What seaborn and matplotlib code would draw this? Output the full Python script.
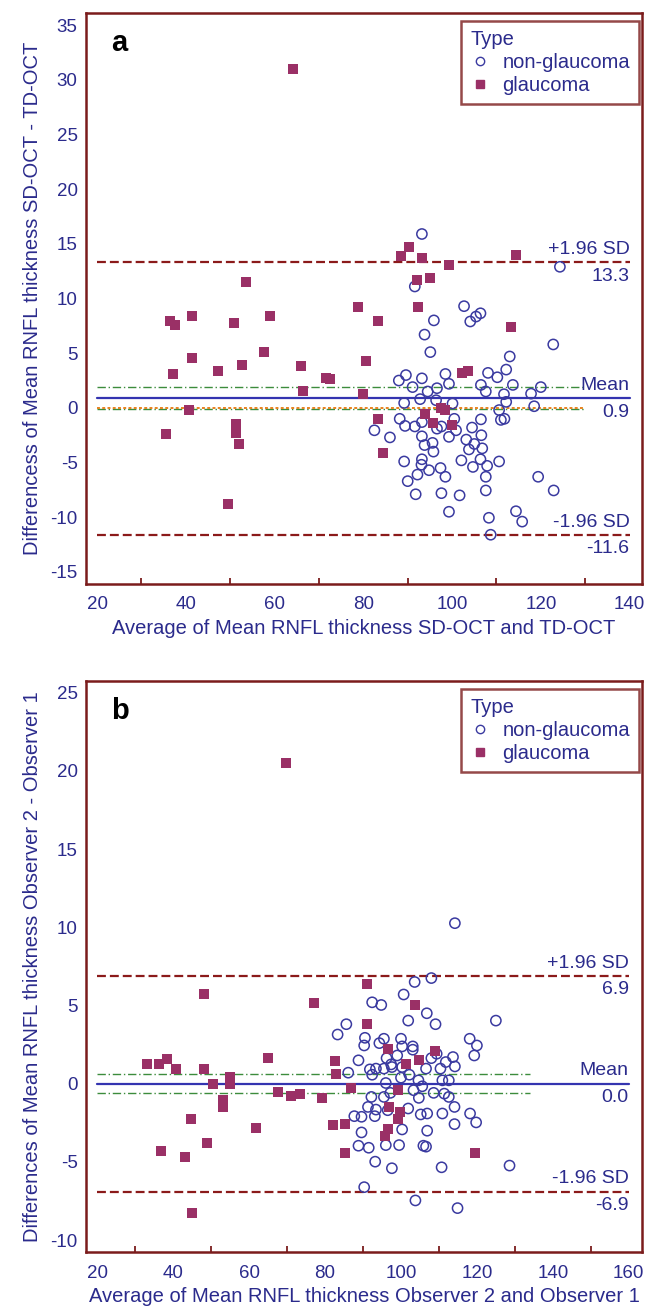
import numpy as np
import pandas as pd
import matplotlib
matplotlib.use("Agg")
import matplotlib.pyplot as plt
import seaborn as sns
from matplotlib.lines import Line2D

# ---------------- Panel a data ----------------
a_ng_x = [93.2, 124.3, 91.6, 102.7, 104.1, 106.4, 105.4, 95.9, 93.8, 95.1, 122.8, 113.0,
          112.2, 108.1, 110.2, 88.0, 89.6, 93.2, 98.5, 99.3, 91.1, 94.5, 96.6, 106.5,
          107.6, 111.7, 113.7, 117.8, 120.0, 118.5, 89.2, 92.8, 96.4, 100.1, 110.6, 112.2,
          111.0, 111.8, 88.2, 89.4, 91.6, 93.2, 96.6, 97.6, 100.5, 100.9, 104.5, 106.5,
          82.5, 86.0, 93.2, 93.8, 95.6, 95.8, 99.3, 103.2, 103.8, 105.0, 106.6, 106.8,
          106.4, 102.1, 89.2, 93.2, 93.1, 94.8, 97.4, 104.7, 107.9, 110.6, 90.0, 92.2,
          98.5, 107.6, 119.4, 91.8, 97.6, 101.7, 107.6, 122.9, 99.3, 108.3, 114.4, 115.8,
          108.7]
a_ng_y = [15.9, 12.9, 11.1, 9.3, 7.9, 8.65, 8.35, 8.0, 6.7, 5.1, 5.8, 4.7,
          3.5, 3.2, 2.8, 2.5, 3.0, 2.7, 3.1, 2.2, 1.9, 1.5, 1.8, 2.1,
          1.5, 1.25, 2.1, 1.3, 1.9, 0.15, 0.45, 0.8, 0.7, 0.4, -0.2, 0.55,
          -1.1, -1.0, -1.0, -1.65, -1.7, -1.3, -1.9, -1.7, -1.0, -2.05, -1.8, -1.05,
          -2.05, -2.7, -2.6, -3.4, -3.2, -4.0, -2.65, -2.9, -3.8, -3.3, -2.5, -3.7,
          -4.7, -4.8, -4.9, -4.7, -5.2, -5.7, -5.5, -5.4, -5.3, -4.9, -6.7, -6.1,
          -6.3, -6.3, -6.3, -7.9, -7.8, -8.0, -7.55, -7.55, -9.5, -10.05, -9.45, -10.4,
          -11.6]
a_g_x = [64.2, 90.2, 88.4, 93.2, 99.3, 114.4, 53.5, 92.0, 95.1, 78.8, 92.3,
         36.5, 37.5, 41.5, 50.8, 58.9, 83.4, 113.3, 57.7, 41.4, 80.7, 37.1, 47.3,
         52.7, 66.0, 71.7, 72.6, 66.5, 80.0, 102.3, 103.5, 40.7, 35.5, 51.4, 51.2,
         51.9, 49.5, 83.4, 84.4, 93.8, 95.6, 97.6, 98.4, 99.9]
a_g_y = [31.0, 14.7, 13.9, 13.7, 13.05, 14.0, 11.5, 11.7, 11.9, 9.2, 9.2,
         7.9, 7.6, 8.4, 7.8, 8.4, 7.9, 7.4, 5.1, 4.6, 4.3, 3.1, 3.4,
         3.9, 3.8, 2.75, 2.6, 1.56, 1.3, 3.15, 3.4, -0.2, -2.4, -1.5, -2.3,
         -3.3, -8.8, -1.0, -4.1, -0.6, -1.4, 0.0, -0.2, -1.6]
a_stats = {"mean": 0.9, "upper": 13.3, "lower": -11.6, "ci_hi": 1.87, "ci_lo": -0.12, "equal": 0.0}
a_line_x = [20, 140]
a_aux_x = [20, 130]
a_xticks = [20, 40, 60, 80, 100, 120, 140]
a_yticks = [-15, -10, -5, 0, 5, 10, 15, 20, 25, 30, 35]
a_xlabel = "Average of Mean RNFL thickness SD-OCT and TD-OCT"
a_ylabel = "Differencess of Mean RNFL thickness SD-OCT - TD-OCT"

# ---------------- Panel b data ----------------
b_ng_x = [114.2, 103.6, 108.0, 100.7, 92.4, 94.8, 106.8, 101.9, 109.1, 125.0, 85.6, 83.3,
          90.5, 90.3, 94.3, 95.5, 100.0, 100.3, 103.1, 103.1, 118.1, 120.0, 119.3, 109.4,
          108.0, 113.7, 114.2, 99.0, 96.2, 88.8, 97.4, 91.8, 93.4, 95.5, 97.6, 100.3,
          102.2, 106.6, 110.4, 111.8, 86.1, 92.4, 100.0, 96.0, 104.6, 110.9, 112.6, 103.3,
          105.6, 108.6, 111.4, 112.6, 92.2, 95.5, 97.2, 104.7, 91.3, 93.4, 101.9, 114.1,
          87.7, 89.6, 93.1, 96.5, 105.2, 106.9, 110.9, 118.2, 114.1, 119.8, 100.3, 106.9,
          89.6, 88.8, 91.5, 96.0, 99.5, 105.9, 106.6, 93.2, 97.6, 110.7, 128.6, 90.3,
          103.8, 114.9]
b_ng_y = [10.26, 6.5, 6.75, 5.7, 5.2, 5.03, 4.5, 4.03, 3.8, 4.03, 3.8, 3.14,
          2.93, 2.44, 2.59, 2.87, 2.87, 2.38, 2.38, 2.17, 2.87, 2.44, 1.8, 1.91,
          1.63, 1.7, 1.1, 1.8, 1.63, 1.49, 1.23, 0.91, 0.96, 0.96, 1.06, 1.06,
          0.57, 0.96, 0.96, 1.38, 0.7, 0.57, 0.38, 0.04, 0.21, 0.21, 0.21, -0.42,
          -0.17, -0.59, -0.64, -0.85, -0.85, -0.85, -0.59, -0.91, -1.49, -1.66, -1.59, -1.49,
          -2.08, -2.12, -2.08, -1.7, -1.97, -1.91, -1.91, -1.91, -2.59, -2.48, -2.93, -3.01,
          -3.12, -3.97, -4.1, -3.93, -3.93, -3.97, -4.03, -4.99, -5.41, -5.35, -5.24, -6.62,
          -7.47, -7.96]
b_g_x = [69.6, 91.0, 48.0, 77.0, 103.8, 91.0, 33.2, 36.2, 38.3, 40.8, 48.2,
         50.4, 54.9, 54.9, 65.0, 82.5, 82.8, 96.7, 109.0, 101.4, 104.8, 67.7, 71.0,
         73.5, 79.2, 86.8, 99.3, 53.2, 53.0, 96.9, 99.8, 99.3, 44.8, 61.7, 82.2,
         85.3, 96.5, 95.7, 49.0, 36.7, 43.2, 85.3, 119.6, 44.9]
b_g_y = [20.5, 6.37, 5.73, 5.14, 5.0, 3.8, 1.23, 1.23, 1.6, 0.96, 0.96,
         -0.04, 0.42, -0.04, 1.63, 1.42, 0.6, 2.2, 2.08, 1.23, 1.49, -0.53, -0.8,
         -0.68, -0.89, -0.28, -0.38, -1.02, -1.49, -1.49, -1.8, -2.23, -2.23, -2.82, -2.65,
         -2.59, -2.93, -3.33, -3.82, -4.31, -4.67, -4.46, -4.46, -8.28]
b_stats = {"mean": 0.0, "upper": 6.9, "lower": -6.9, "ci_hi": 0.59, "ci_lo": -0.59, "equal": None}
b_line_x = [20, 160]
b_aux_x = [20, 134]
b_xticks = [20, 40, 60, 80, 100, 120, 140, 160]
b_yticks = [-10, -5, 0, 5, 10, 15, 20, 25]
b_xlabel = "Average of Mean RNFL thickness Observer 2 and Observer 1"
b_ylabel = "Differences of Mean RNFL thickness Observer 2 - Observer 1"

# ---------------- style ----------------
sns.set_theme(style="white")
plt.rcParams["font.family"] = ["Liberation Sans", "DejaVu Sans"]

FRAME = "#7b1c1c"
TXT = "#2b2b8c"
CIRC = "#3a3aa0"
SQR = "#9a3066"
SDRED = "#8b1a1a"
MEANB = "#3434b0"
GREEN = "#3c8c3c"
ORANGE = "#e8821e"

LABFS = 14.5
TICKFS = 13.5

fig = plt.figure(figsize=(6.49, 13.09), dpi=100)
ax_a = fig.add_axes([0.1325, 0.5539, 0.9892 - 0.1325, 0.990 - 0.5539])
ax_b = fig.add_axes([0.1325, 0.0435, 0.9892 - 0.1325, 0.4798 - 0.0435])


def draw(ax, ng_x, ng_y, g_x, g_y, st, line_x, aux_x, xticks, yticks, xlim, ylim,
         xlabel, ylabel, letter):
    df = pd.DataFrame({
        "avg": list(ng_x) + list(g_x),
        "diff": list(ng_y) + list(g_y),
        "Type": ["non-glaucoma"] * len(ng_x) + ["glaucoma"] * len(g_x),
    })
    # reference lines
    ax.plot(line_x, [st["upper"]] * 2, color=SDRED, lw=1.6, dashes=(4, 1.8), zorder=1)
    ax.plot(line_x, [st["lower"]] * 2, color=SDRED, lw=1.6, dashes=(4, 1.8), zorder=1)
    ax.plot(aux_x, [st["ci_hi"]] * 2, color=GREEN, lw=1.0, dashes=(6, 2, 1, 2), zorder=1)
    ax.plot(aux_x, [st["ci_lo"]] * 2, color=GREEN, lw=1.0, dashes=(6, 2, 1, 2), zorder=1)
    if st["equal"] is not None:
        ax.plot(aux_x, [st["equal"]] * 2, color=ORANGE, lw=1.4, dashes=(1.5, 1.2), zorder=1)
    ax.plot(line_x, [st["mean"]] * 2, color=MEANB, lw=1.6, zorder=1)

    sub_ng = df[df["Type"] == "non-glaucoma"]
    sub_g = df[df["Type"] == "glaucoma"]
    sns.scatterplot(data=sub_ng, x="avg", y="diff", marker="o", s=54, color=CIRC,
                    linewidth=1.1, ax=ax, legend=False, zorder=3)
    coll = ax.collections[-1]
    coll.set_facecolor("none")
    coll.set_edgecolor(CIRC)
    sns.scatterplot(data=sub_g, x="avg", y="diff", marker="s", s=50, color=SQR,
                    linewidth=0, ax=ax, legend=False, zorder=3)

    # annotations
    xr = line_x[1]
    for key, lab in (("upper", "+1.96 SD"), ("mean", "Mean"), ("lower", "-1.96 SD")):
        v = st[key]
        ax.annotate(lab, (xr, v), xytext=(0, 3), textcoords="offset points",
                    ha="right", va="bottom", color=TXT, fontsize=14)
        ax.annotate(f"{v:.1f}", (xr, v), xytext=(0, -4), textcoords="offset points",
                    ha="right", va="top", color=TXT, fontsize=14)

    ax.set_xlim(*xlim)
    ax.set_ylim(*ylim)
    ax.set_xticks(xticks)
    ax.set_xticks([t + 10 for t in xticks[:-1]], minor=True)
    ax.set_yticks(yticks)
    ax.set_xticklabels([str(t) for t in xticks])
    ax.set_yticklabels([str(t) for t in yticks])
    ax.tick_params(axis="both", which="major", direction="in", length=8, width=1.6,
                   color=FRAME, labelcolor=TXT, labelsize=TICKFS)
    ax.tick_params(axis="x", which="major", pad=9)
    ax.tick_params(axis="y", which="major", pad=6)
    ax.tick_params(axis="x", which="minor", direction="in", length=4, width=1.3,
                   color=FRAME, bottom=True)
    ax.tick_params(axis="y", which="minor", left=False)
    for sp in ax.spines.values():
        sp.set_color(FRAME)
        sp.set_linewidth(1.8)
        sp.set_visible(True)
    ax.set_xlabel(xlabel, color=TXT, fontsize=LABFS, labelpad=4)
    ax.set_ylabel(ylabel, color=TXT, fontsize=LABFS, labelpad=6)
    ax.grid(False)
    ax.set_facecolor("white")

    ax.text(0.045, 0.948, letter, transform=ax.transAxes, fontsize=21,
            fontweight="bold", color="black", ha="left", va="center")

    handles = [
        Line2D([], [], marker="o", ls="none", mfc="none", mec=CIRC, mew=1.0, ms=6),
        Line2D([], [], marker="s", ls="none", mfc=SQR, mec=SQR, ms=6),
    ]
    leg = ax.legend(handles, ["non-glaucoma", "glaucoma"], title="Type",
                    loc="upper right", bbox_to_anchor=(0.995, 0.986), borderaxespad=0,
                    frameon=True, fancybox=False, fontsize=LABFS, title_fontsize=LABFS,
                    alignment="left", handlelength=1.0, handletextpad=0.6,
                    borderpad=0.45, labelspacing=0.2)
    leg.get_frame().set_edgecolor(FRAME)
    leg.get_frame().set_linewidth(1.8)
    leg.get_title().set_color(TXT)
    for t in leg.get_texts():
        t.set_color(TXT)


draw(ax_a, a_ng_x, a_ng_y, a_g_x, a_g_y, a_stats, a_line_x, a_aux_x, a_xticks, a_yticks,
     (17.5, 142.8), (-16.1, 36.1), a_xlabel, a_ylabel, "a")
draw(ax_b, b_ng_x, b_ng_y, b_g_x, b_g_y, b_stats, b_line_x, b_aux_x, b_xticks, b_yticks,
     (17.0, 163.5), (-10.77, 25.75), b_xlabel, b_ylabel, "b")

fig.savefig("out.png", dpi=100, facecolor="white")
